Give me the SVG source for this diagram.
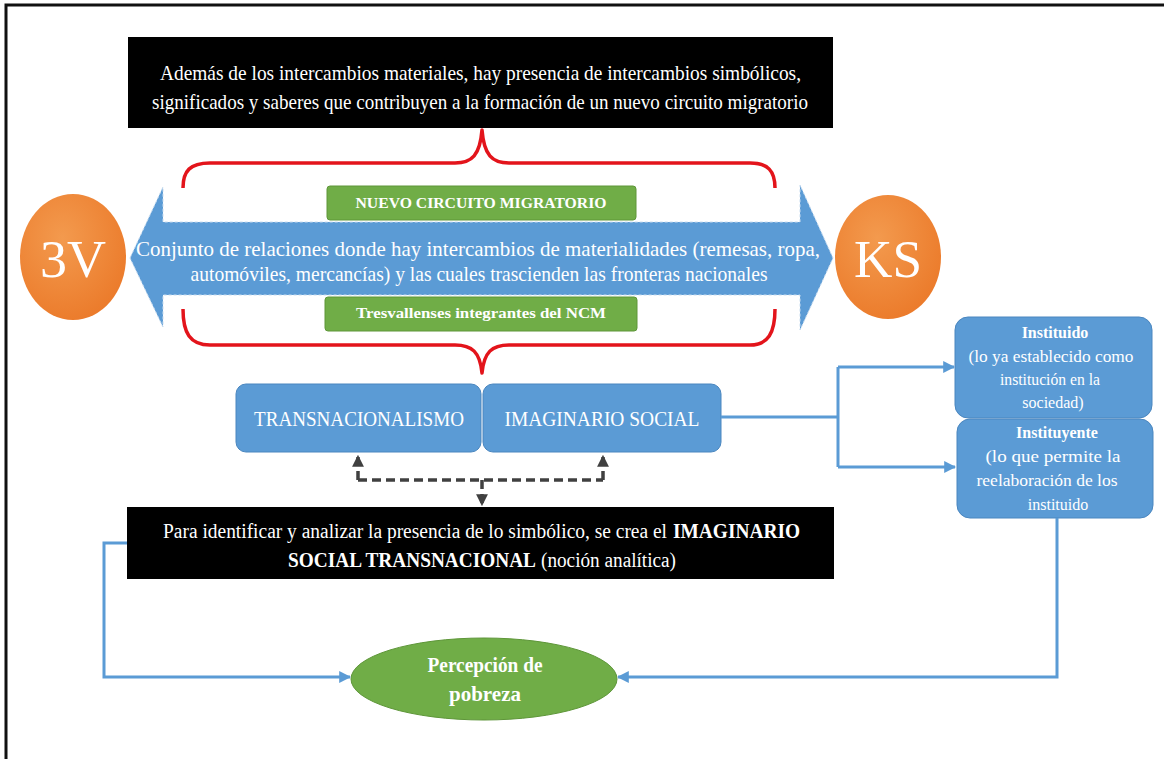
<svg xmlns="http://www.w3.org/2000/svg" width="1164" height="759" viewBox="0 0 1164 759">
<defs>
<style>
.serif{font-family:"Liberation Serif","Times New Roman",serif;fill:#fff}
.b{font-weight:bold}
.bluebox{fill:#5B9BD5;stroke:#4a86bf;stroke-width:1}
.green{fill:#70AD47;stroke:#5e9639;stroke-width:1}
.brace{fill:none;stroke:#E3141B;stroke-width:3.5;stroke-linejoin:round}
.conn{fill:none;stroke:#5B9BD5;stroke-width:3}
.dash{fill:none;stroke:#404040;stroke-width:3.5;stroke-dasharray:9 5}
</style>
<radialGradient id="og" cx="0.4" cy="0.35" r="0.7">
<stop offset="0" stop-color="#F39A4E"/>
<stop offset="1" stop-color="#EB7A2A"/>
</radialGradient>
<marker id="ab" viewBox="0 0 10 10" refX="9" refY="5" markerWidth="4" markerHeight="4" orient="auto" markerUnits="strokeWidth">
<path d="M0,0 L10,5 L0,10 z" fill="#5B9BD5"/>
</marker>
<marker id="ag" viewBox="0 0 10 10" refX="9" refY="5" markerWidth="3.4" markerHeight="3.4" orient="auto" markerUnits="strokeWidth">
<path d="M0,0 L10,5 L0,10 z" fill="#404040"/>
</marker>
</defs>
<rect width="1164" height="759" fill="#fff"/>
<path d="M6,759 L6,5 L1164,5" fill="none" stroke="#111" stroke-width="3"/>

<g id="top-box">
<rect x="128" y="37" width="705" height="91" fill="#000"/>
<text class="serif" x="480.5" y="80" font-size="21" text-anchor="middle" textLength="641" lengthAdjust="spacingAndGlyphs">Además de los intercambios materiales,  hay presencia de intercambios  simbólicos,</text>
<text class="serif" x="480" y="109" font-size="21" text-anchor="middle" textLength="656" lengthAdjust="spacingAndGlyphs">significados  y saberes  que contribuyen a la formación de un nuevo circuito migratorio</text>
</g>

<g id="braces">
<path class="brace" d="M183,188 C183,171 190,163 210,163 L455,163 C472,163 480,155 482,130 C484,155 492,163 509,163 L750,163 C768,163 775,171 775,188"/>
<path class="brace" d="M183,309 C183,333 190,345 210,345 L455,345 C472,345 480,352 482,373 C484,352 492,345 509,345 L750,345 C768,345 775,333 775,309"/>
</g>

<g id="double-arrow">
<polygon points="130,258 163,187 163,222 800,222 800,185 833,258 800,330 800,295 163,295 163,327" fill="#5B9BD5" stroke="#c9dcef" stroke-width="1" stroke-dasharray="3 2"/>
<text class="serif" x="478" y="256" font-size="21" text-anchor="middle" textLength="684" lengthAdjust="spacingAndGlyphs">Conjunto de relaciones  donde hay intercambios de materialidades  (remesas, ropa,</text>
<text class="serif" x="479" y="281" font-size="21" text-anchor="middle" textLength="577" lengthAdjust="spacingAndGlyphs">automóviles,  mercancías) y las cuales trascienden las fronteras nacionales</text>
</g>

<g id="ncm">
<rect class="green" x="327" y="186" width="309" height="34" rx="3"/>
<text class="serif b" x="481" y="208" font-size="14" text-anchor="middle" textLength="251" lengthAdjust="spacingAndGlyphs">NUEVO CIRCUITO MIGRATORIO</text>
</g>
<g id="tresvallenses">
<rect class="green" x="325" y="297" width="312" height="34" rx="3"/>
<text class="serif b" x="481" y="318" font-size="14" text-anchor="middle" textLength="250" lengthAdjust="spacingAndGlyphs">Tresvallenses integrantes del NCM</text>
</g>

<g id="node-3v">
<ellipse cx="73" cy="257" rx="53" ry="63" fill="url(#og)"/>
<text class="serif" x="73" y="277" font-size="52" text-anchor="middle" textLength="66" lengthAdjust="spacingAndGlyphs">3V</text>
</g>
<g id="node-ks">
<ellipse cx="888" cy="257" rx="53" ry="62" fill="url(#og)"/>
<text class="serif" x="888" y="277" font-size="52" text-anchor="middle" textLength="68" lengthAdjust="spacingAndGlyphs">KS</text>
</g>

<g id="transnacionalismo">
<rect class="bluebox" x="236" y="384" width="245" height="68" rx="10"/>
<text class="serif" x="359" y="426" font-size="20" text-anchor="middle" textLength="210" lengthAdjust="spacingAndGlyphs">TRANSNACIONALISMO</text>
</g>
<g id="imaginario-social">
<rect class="bluebox" x="483" y="384" width="238" height="68" rx="10"/>
<text class="serif" x="602" y="426" font-size="20" text-anchor="middle" textLength="195" lengthAdjust="spacingAndGlyphs">IMAGINARIO SOCIAL</text>
</g>

<g id="bottom-box">
<rect x="127" y="507" width="707" height="72" fill="#000"/>
<text class="serif" x="163" y="538" font-size="20" textLength="504" lengthAdjust="spacingAndGlyphs">Para identificar  y analizar  la presencia de lo simbólico, se crea el</text>
<text class="serif b" x="673" y="538" font-size="20" textLength="127" lengthAdjust="spacingAndGlyphs">IMAGINARIO</text>
<text class="serif b" x="288" y="567" font-size="20" textLength="248" lengthAdjust="spacingAndGlyphs">SOCIAL TRANSNACIONAL</text>
<text class="serif" x="541" y="567" font-size="20" textLength="135" lengthAdjust="spacingAndGlyphs">(noción analítica)</text>
</g>

<g id="instituido">
<rect class="bluebox" x="955" y="317" width="197" height="101" rx="13"/>
<text class="serif b" x="1055" y="338" font-size="16" text-anchor="middle">Instituido</text>
<text class="serif" x="1051" y="362" font-size="16" text-anchor="middle" textLength="165" lengthAdjust="spacingAndGlyphs">(lo ya establecido  como</text>
<text class="serif" x="1050" y="385" font-size="16" text-anchor="middle" textLength="100" lengthAdjust="spacingAndGlyphs">institución  en la</text>
<text class="serif" x="1053" y="408" font-size="16" text-anchor="middle">sociedad)</text>
</g>
<g id="instituyente">
<rect class="bluebox" x="957" y="419" width="196" height="99" rx="13"/>
<text class="serif b" x="1057" y="438" font-size="16" text-anchor="middle">Instituyente</text>
<text class="serif" x="1053" y="462" font-size="16" text-anchor="middle" textLength="135" lengthAdjust="spacingAndGlyphs">(lo que permite  la</text>
<text class="serif" x="1047" y="486" font-size="16" text-anchor="middle" textLength="141" lengthAdjust="spacingAndGlyphs">reelaboración  de los</text>
<text class="serif" x="1058" y="510" font-size="16" text-anchor="middle">instituido</text>
</g>

<g id="percepcion">
<ellipse cx="484" cy="679" rx="133" ry="41" fill="#70AD47" stroke="#5e9639" stroke-width="1"/>
<text class="serif b" x="485" y="672" font-size="21" text-anchor="middle" textLength="115" lengthAdjust="spacingAndGlyphs">Percepción de</text>
<text class="serif b" x="485" y="701" font-size="21" text-anchor="middle">pobreza</text>
</g>

<g id="connectors">
<path class="dash" d="M358,480 L358,456" marker-end="url(#ag)"/>
<path class="dash" d="M603,480 L603,456" marker-end="url(#ag)"/>
<path class="dash" d="M358,480 L603,480"/>
<path class="dash" d="M482,480 L482,505" marker-end="url(#ag)" stroke-dasharray="none"/>
<path class="conn" d="M721,417 L838,417"/>
<path class="conn" d="M838,367 L838,467"/>
<path class="conn" d="M838,367 L954,367" marker-end="url(#ab)"/>
<path class="conn" d="M838,467 L955,467" marker-end="url(#ab)"/>
<path class="conn" d="M127,543 L104,543 L104,677 L350,677" marker-end="url(#ab)"/>
<path class="conn" d="M1057,518 L1057,677 L618,677" marker-end="url(#ab)"/>
</g>
</svg>
